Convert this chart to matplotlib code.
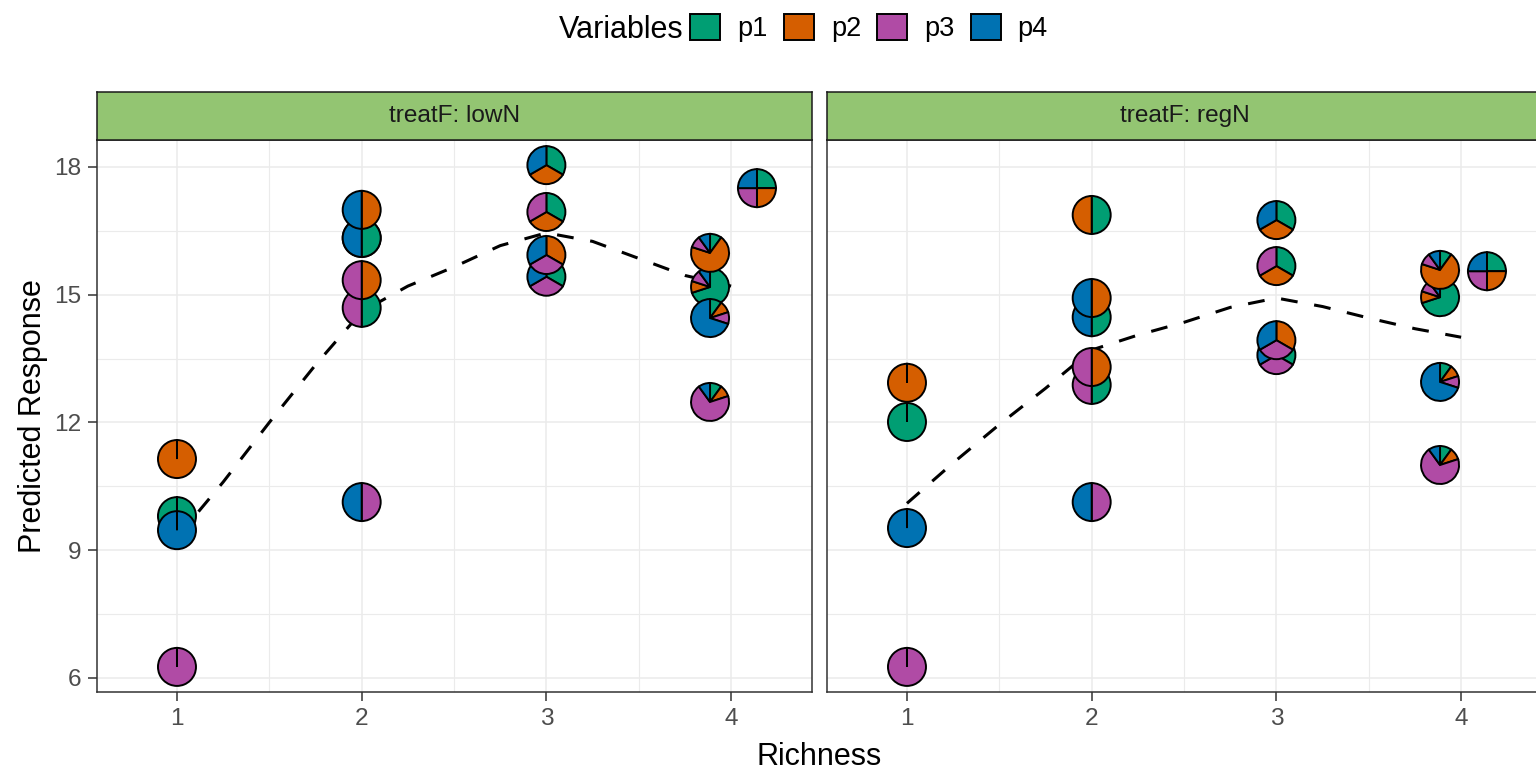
import matplotlib
matplotlib.use("Agg")
import matplotlib.pyplot as plt
from matplotlib.patches import Wedge, Patch
from matplotlib.transforms import Affine2D, ScaledTranslation

plt.rcParams['font.family'] = ['Liberation Sans', 'DejaVu Sans']

# data
species = ["p1", "p2", "p3", "p4"]
colours = ["#009E73", "#D55E00", "#B04BA5", "#0072B2"]

props = [
    (1, 0, 0, 0), (0, 1, 0, 0), (0, 0, 1, 0), (0, 0, 0, 1),
    (0.5, 0.5, 0, 0), (0.5, 0, 0.5, 0), (0.5, 0, 0, 0.5),
    (0, 0.5, 0.5, 0), (0, 0.5, 0, 0.5), (0, 0, 0.5, 0.5),
    (1/3, 1/3, 1/3, 0), (1/3, 1/3, 0, 1/3), (1/3, 0, 1/3, 1/3), (0, 1/3, 1/3, 1/3),
    (0.7, 0.1, 0.1, 0.1), (0.1, 0.7, 0.1, 0.1), (0.1, 0.1, 0.7, 0.1), (0.1, 0.1, 0.1, 0.7),
    (0.25, 0.25, 0.25, 0.25),
]
richness_pos = [1, 1, 1, 1,
                2, 2, 2, 2, 2, 2,
                3, 3, 3, 3,
                3.886, 3.886, 3.886, 3.886,
                4.14]
resp_lowN = [9.8, 11.14, 6.26, 9.47,
             16.33, 14.69, 16.33, 15.34, 16.99, 10.13,
             16.94, 18.04, 15.42, 15.93,
             15.18, 15.98, 12.48, 14.45,
             17.5]
resp_regN = [12.01, 12.93, 6.26, 9.52,
             16.87, 12.88, 14.47, 13.30, 14.92, 10.13,
             15.67, 16.75, 13.58, 13.93,
             14.94, 15.58, 11.0, 12.95,
             15.55]

rich_grid = [1, 1.25, 1.5, 1.75, 2, 2.25, 2.5, 2.75, 3, 3.25, 3.5, 3.75, 4]
fit_lowN = [9.3, 10.6, 12.0, 13.35, 14.6, 15.2, 15.65, 16.15, 16.45, 16.25, 15.85, 15.45, 15.2]
fit_regN = [10.1, 11.05, 11.95, 12.8, 13.7, 14.05, 14.35, 14.7, 14.92, 14.72, 14.45, 14.2, 14.0]

panels = [("treatF: lowN", resp_lowN, fit_lowN), ("treatF: regN", resp_regN, fit_regN)]

W, H = 1536, 773
fig = plt.figure(figsize=(W / 100, H / 100), dpi=100)
fig.patch.set_facecolor("white")

PIE_R = 0.19  # inches


def draw_pie(ax, x, y, p):
    trans = Affine2D().scale(PIE_R) + fig.dpi_scale_trans + ScaledTranslation(x, y, ax.transData)
    cum = 0.0
    for frac, col in zip(p, colours):
        if frac <= 0:
            continue
        t2 = 90 - 360 * cum
        t1 = 90 - 360 * (cum + frac)
        if frac >= 0.999:
            t1 = t2 - 359.9
        w = Wedge((0, 0), 1, t1, t2, facecolor=col, edgecolor="black",
                  linewidth=1.4, transform=trans, zorder=3)
        ax.add_patch(w)
        cum += frac


lefts = [97, 827]
top, bottom, pw = 140, 692, 715
strip_top = 92

for i, (title, resp, fit) in enumerate(panels):
    ax = fig.add_axes([lefts[i] / W, 1 - bottom / H, pw / W, (bottom - top) / H])
    ax.set_xlim(0.567, 4.438)
    ax.set_ylim(5.671, 18.63)
    ax.set_xticks([1, 2, 3, 4])
    ax.set_xticks([1.5, 2.5, 3.5], minor=True)
    ax.set_yticks([6, 9, 12, 15, 18])
    ax.set_yticks([7.5, 10.5, 13.5, 16.5], minor=True)
    ax.grid(which="major", color="#EBEBEB", linewidth=1.1, zorder=0)
    ax.grid(which="minor", color="#EBEBEB", linewidth=0.8, zorder=0)
    ax.set_axisbelow(True)
    ax.tick_params(which="minor", length=0)
    ax.tick_params(which="major", length=6.5, width=1.1, color="#333333",
                   labelsize=17.6, labelcolor="#4D4D4D", pad=5)
    if i == 1:
        ax.tick_params(axis="y", which="major", labelleft=False, length=0)
    for s in ax.spines.values():
        s.set_color("#333333")
        s.set_linewidth(1.1)

    ax.plot(rich_grid, fit, color="black", linewidth=2.2, linestyle=(0, (5.5, 5.5)), zorder=2)
    for x, y, p in zip(richness_pos, resp, props):
        draw_pie(ax, x, y, p)

    sax = fig.add_axes([lefts[i] / W, 1 - top / H, pw / W, (top - strip_top) / H])
    sax.set_facecolor("#93C572")
    sax.set_xticks([])
    sax.set_yticks([])
    for s in sax.spines.values():
        s.set_color("#1A1A1A")
        s.set_linewidth(1.1)
    sax.text(0.5, 0.5, title, ha="center", va="center", fontsize=17.6,
             color="#1A1A1A", transform=sax.transAxes)

fig.text(819.5 / W, 1 - 757 / H, "Richness", ha="center", va="center", fontsize=22)
fig.text(33 / W, 1 - 416 / H, "Predicted Response", ha="center", va="center",
         rotation=90, fontsize=22)

handles = [Patch(facecolor=c, edgecolor="black", linewidth=1.4, label=s)
           for s, c in zip(species, colours)]
fig.text(683 / W, 1 - 30 / H, "Variables", ha="right", va="center", fontsize=22)
fig.legend(handles=handles, loc="center", bbox_to_anchor=(869 / W, 1 - 28 / H), ncol=4,
           frameon=False, fontsize=19.5, handlelength=1.11, handleheight=1.11,
           handletextpad=0.63, columnspacing=0.59)

fig.savefig("out.png", dpi=100)
